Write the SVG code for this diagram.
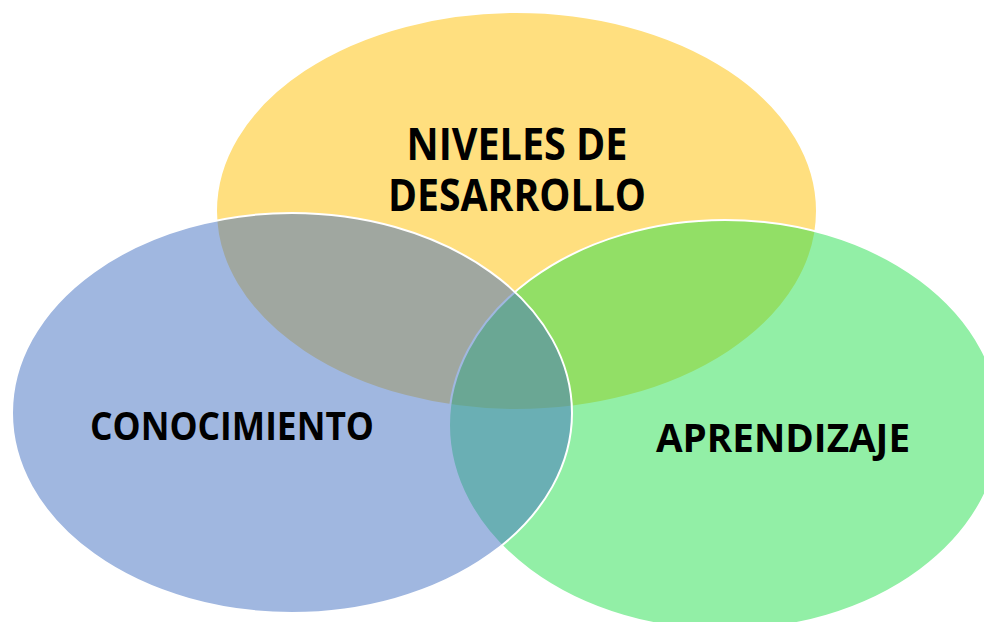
<svg xmlns="http://www.w3.org/2000/svg" width="984" height="622" viewBox="0 0 984 622">
<style>
.shape{stroke:#FFFFFF;stroke-width:2;fill-opacity:0.5}
.lbl{font-family:"Open Sans","Noto Sans","Liberation Sans",sans-serif;font-weight:bold;fill:#000000;text-anchor:middle}
</style>
<rect width="984" height="622" fill="#FFFFFF"/>
<g id="connectors"/>
<g id="node-niveles">
<ellipse class="shape" cx="516.5" cy="211" rx="300.5" ry="199" fill="#FFC000"/>
<text class="lbl" font-size="45" x="517" y="160" textLength="221" lengthAdjust="spacingAndGlyphs">NIVELES DE</text>
<text class="lbl" font-size="45" x="517" y="211" textLength="258" lengthAdjust="spacingAndGlyphs">DESARROLLO</text>
</g>
<g id="node-aprendizaje">
<ellipse class="shape" cx="725" cy="425" rx="276" ry="205" fill="#25DF4D"/>
<text class="lbl" font-size="40" x="783" y="452" textLength="254" lengthAdjust="spacingAndGlyphs">APRENDIZAJE</text>
</g>
<g id="node-conocimiento">
<ellipse class="shape" cx="292" cy="413" rx="280" ry="200" fill="#4270C2"/>
<text class="lbl" font-size="40" x="232" y="440" textLength="284" lengthAdjust="spacingAndGlyphs">CONOCIMIENTO</text>
</g>
</svg>
